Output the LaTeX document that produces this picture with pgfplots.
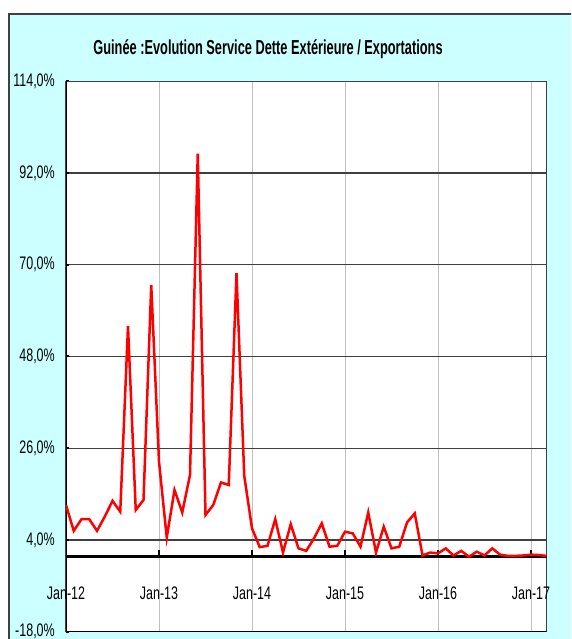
\documentclass[border=0pt]{standalone}
\usepackage{pgfplots}
\pgfplotsset{compat=1.18}
\usepackage{fontspec}
\setmainfont{Liberation Sans}
\usepackage{graphicx}
\definecolor{bgcyan}{RGB}{204,255,255}
\definecolor{gridh}{RGB}{64,64,64}
\definecolor{gridv}{RGB}{192,192,192}
\newcommand\tl[1]{\scalebox{1}[1.45]{#1}}
\begin{document}
\begin{tikzpicture}
\useasboundingbox (0pt,0pt) rectangle (571pt,639pt);
\fill[white] (0pt,0pt) rectangle (571pt,639pt);
\begin{scope}
\clip (0pt,0pt) rectangle (571pt,639pt);
\filldraw[fill=bgcyan, draw=gray!50!black, line width=1.2pt] (9pt,-20pt) rectangle (600pt,625pt);
\end{scope}
\node[anchor=base, inner sep=0pt, font=\bfseries\fontsize{12.8}{15}\selectfont] at (268pt,584pt) {\scalebox{1}[1.58]{Guinée :Evolution Service Dette Extérieure / Exportations}};
\begin{axis}[
  at={(66pt,7.2pt)}, anchor=south west, width=480.5pt, height=550.6pt, scale only axis,
  xmin=0, xmax=62, ymin=-18, ymax=114,
  axis background/.style={fill=white},
  ytick={-18,4,26,48,70,92,114},
  yticklabels={{\tl{-18,0\%}},{\tl{4,0\%}},{\tl{26,0\%}},{\tl{48,0\%}},{\tl{70,0\%}},{\tl{92,0\%}},{\tl{114,0\%}}},
  xtick={0,12,24,36,48,60},
  xticklabels={{\tl{Jan-12}},{\tl{Jan-13}},{\tl{Jan-14}},{\tl{Jan-15}},{\tl{Jan-16}},{\tl{Jan-17}}},
  ymajorgrids, xmajorgrids,
  y grid style={gridh, line width=1.2pt},
  x grid style={gridv, line width=1pt},
  tick align=inside,
  major tick length=3pt,
  ytick pos=left, xtick pos=bottom,
  ytick style={black, line width=2pt},
  xtick style={draw=none},
  axis line style={gridh, line width=1.2pt},
  yticklabel style={font=\fontsize{12.5}{14}\selectfont, anchor=east, inner sep=0pt, xshift=-11pt},
  xticklabel style={font=\fontsize{12.5}{14}\selectfont, anchor=center, inner sep=0pt, yshift=38.8pt},
]
\draw[black, line width=2.3pt] (rel axis cs:0,0) -- (rel axis cs:0,1);
\draw[black, line width=2pt] (rel axis cs:0,0) -- (rel axis cs:1,0);
\draw[black, line width=2.7pt] (axis cs:0,0) -- (axis cs:62,0);
\draw[black, line width=1.7pt] (axis cs:12,0) -- ++(0pt,7pt);
\draw[black, line width=1.7pt] (axis cs:24,0) -- ++(0pt,7pt);
\draw[black, line width=1.7pt] (axis cs:36,0) -- ++(0pt,7pt);
\draw[black, line width=1.7pt] (axis cs:48,0) -- ++(0pt,7pt);
\draw[black, line width=1.7pt] (axis cs:60,0) -- ++(0pt,7pt);
\addplot[red, line width=2.5pt, mark=none] coordinates {
(0,12.4) (1,6.2) (2,9.0) (3,9.0) (4,6.2) (5,9.6) (6,13.4) (7,10.8) (8,55.3) (9,11.2)
(10,13.6) (11,65.1) (12,22.8) (13,4.6) (14,16.0) (15,10.6) (16,19.6) (17,96.6) (18,10.0) (19,12.4)
(20,17.8) (21,17.2) (22,68.0) (23,19.4) (24,6.8) (25,2.3) (26,2.6) (27,9.0) (28,1.0) (29,7.8)
(30,2.0) (31,1.4) (32,4.4) (33,8.0) (34,2.4) (35,2.6) (36,6.0) (37,5.6) (38,2.4) (39,10.6)
(40,1.0) (41,7.2) (42,2.0) (43,2.4) (44,8.2) (45,10.4) (46,0.3) (47,1.0) (48,0.8) (49,2.0)
(50,0.3) (51,1.4) (52,0.0) (53,1.2) (54,0.3) (55,2.0) (56,0.5) (57,0.2) (58,0.2) (59,0.3)
(60,0.5) (61,0.4) (62,0.2)
};
\end{axis}
\end{tikzpicture}
\end{document}
